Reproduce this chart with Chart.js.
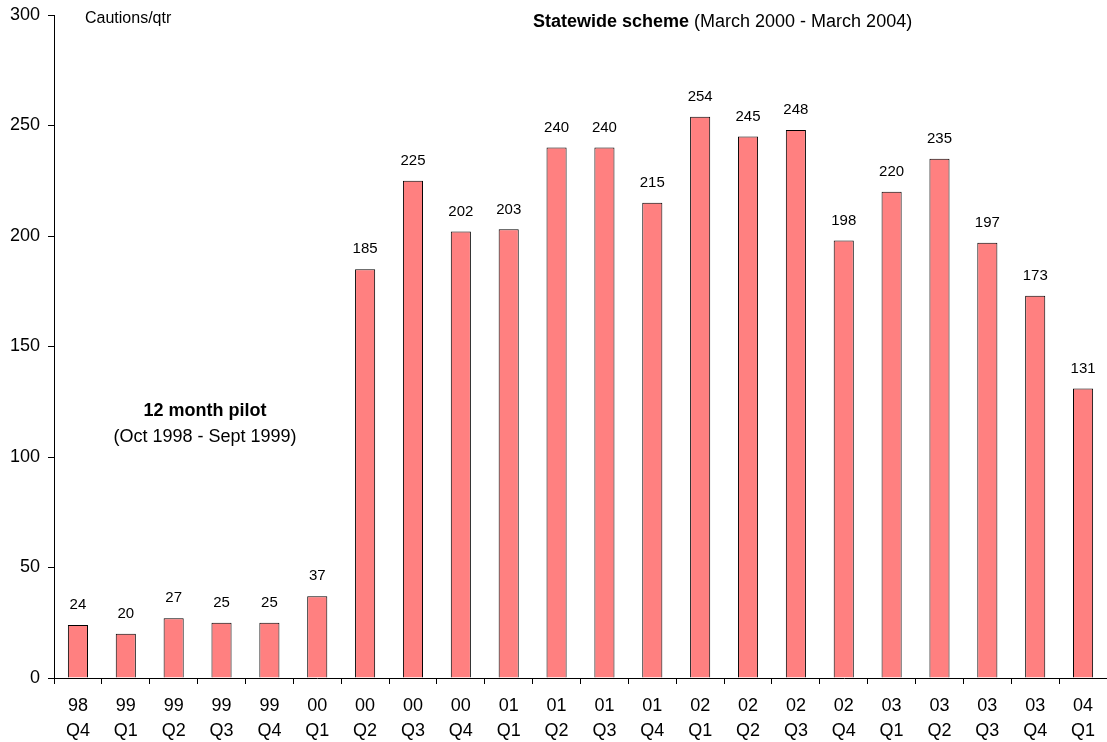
<!DOCTYPE html>
<html>
<head>
<meta charset="utf-8">
<script src="https://cdn.jsdelivr.net/npm/chart.js@4/dist/chart.umd.min.js"></script>
<style>
  body { margin: 0; background: #fff; }
  #wrap { width: 1107px; height: 742px; }
</style>
</head>
<body>
<div id="wrap"><canvas id="myChart" width="1107" height="742"></canvas></div>
<script>
const years = ['98', '99', '99', '99', '99', '00', '00', '00', '00', '01', '01', '01', '01', '02', '02', '02', '02', '03', '03', '03', '03', '04'];
const quarters = ['Q4', 'Q1', 'Q2', 'Q3', 'Q4', 'Q1', 'Q2', 'Q3', 'Q4', 'Q1', 'Q2', 'Q3', 'Q4', 'Q1', 'Q2', 'Q3', 'Q4', 'Q1', 'Q2', 'Q3', 'Q4', 'Q1'];
const cautions = [24, 20, 27, 25, 25, 37, 185, 225, 202, 203, 240, 240, 215, 254, 245, 248, 198, 220, 235, 197, 173, 131];
const yTicks = [0, 50, 100, 150, 200, 250, 300];

const font = "'Liberation Sans', Arial, sans-serif";

// value labels above bars + free text notes
const notes = {
    id: 'notes',
    afterDatasetsDraw(chart) {
        const ctx = chart.ctx;
        const meta = chart.getDatasetMeta(0);
        ctx.save();
        ctx.fillStyle = '#000';
        ctx.font = '15px ' + font;
        ctx.textAlign = 'center';
        ctx.textBaseline = 'middle';
        meta.data.forEach(function(bar, i) {
            ctx.fillText(cautions[i], bar.x, bar.y - 20);
        });

        ctx.textAlign = 'left';
        ctx.font = '16px ' + font;
        ctx.fillText('Cautions/qtr', 85, 19);

        ctx.font = 'bold 18px ' + font;
        const bold = 'Statewide scheme';
        ctx.fillText(bold, 533, 22);
        const w = ctx.measureText(bold).width;
        ctx.font = '18px ' + font;
        ctx.fillText(' (March 2000 - March 2004)', 533 + w, 22);

        ctx.textAlign = 'center';
        ctx.font = 'bold 18px ' + font;
        ctx.fillText('12 month pilot', 205, 411);
        ctx.font = '18px ' + font;
        ctx.fillText('(Oct 1998 - Sept 1999)', 205, 437);
        ctx.restore();
    }
};

const ctx = document.getElementById('myChart').getContext('2d');
const myChart = new Chart(ctx, {
    type: 'bar',
    data: {
        labels: years.map((y, i) => [y, quarters[i]]),
        datasets: [{
            label: 'Cautions/qtr',
            data: cautions,
            backgroundColor: '#FF8080',
            borderColor: '#000',
            borderWidth: 1,
            barPercentage: 0.42,
            categoryPercentage: 1
        }]
    },
    options: {
        responsive: false,
        animation: false,
        layout: { padding: { top: 15, right: 0, left: 0, bottom: 0 } },
        plugins: {
            legend: { display: false },
            tooltip: { enabled: false }
        },
        scales: {
            x: {
                grid: { offset: true, drawOnChartArea: false, tickLength: 6, color: '#000' },
                border: { color: '#000', width: 1 },
                ticks: {
                    color: '#000',
                    font: { family: font, size: 18, lineHeight: 1.39 },
                    padding: 10,
                    maxRotation: 0,
                    autoSkip: false
                },
                afterFit: function(scale) { scale.height = 64; }
            },
            y: {
                min: 0,
                max: 300,
                afterBuildTicks: function(scale) {
                    scale.ticks = yTicks.map(v => ({ value: v }));
                },
                grid: { drawOnChartArea: false, tickLength: 6, color: '#000' },
                border: { color: '#000', width: 1 },
                ticks: {
                    color: '#000',
                    font: { family: font, size: 18 },
                    padding: 8
                },
                afterFit: function(scale) {
                    scale.width = 54;
                    scale.paddingTop = 0;
                    scale.paddingBottom = 0;
                }
            }
        }
    },
    plugins: [notes]
});
</script>
</body>
</html>
